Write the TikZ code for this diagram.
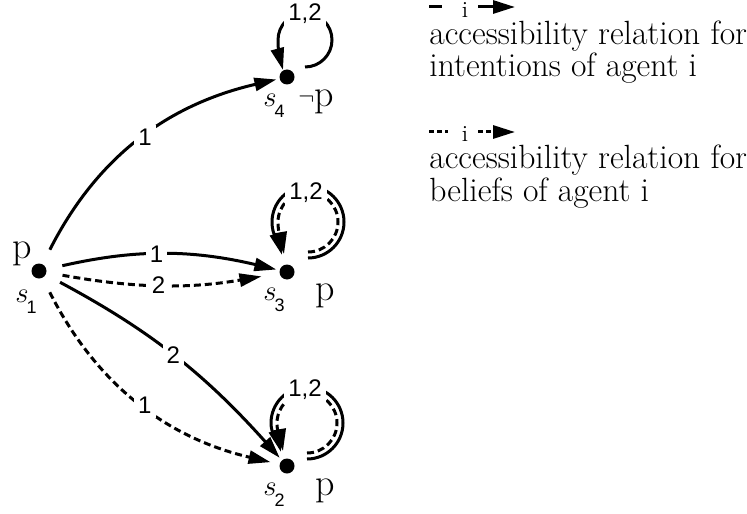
\documentclass[tikz,border=0pt]{standalone}
\usepackage{fontspec}
\usepackage{tikz}
\usetikzlibrary{arrows.meta, positioning}
\newfontfamily\lblfont{Liberation Sans}
\tikzstyle{dot} = [circle, fill=black, inner sep=0pt, minimum size=7.5pt]
\tikzstyle{intent} = [-{Triangle[length=11pt, width=6.5pt]}, line width=1.5pt]
\tikzstyle{belief} = [intent, dash pattern=on 3.5pt off 2pt]
\tikzstyle{lbl} = [fill=white, inner sep=2pt, font=\lblfont\fontsize{12}{12}\selectfont]
\tikzstyle{stname} = [inner sep=0pt, anchor=base west, font=\fontsize{15}{15}\selectfont]
\tikzstyle{prop} = [inner sep=0pt, anchor=base west, font=\fontsize{19}{19}\selectfont]
\tikzstyle{legend} = [inner sep=0pt, anchor=base west, align=left, font=\fontsize{16.8}{14.5}\selectfont]
\tikzstyle{agent} = [inner sep=0pt, font=\fontsize{11.5}{11.5}\selectfont]
\newcommand{\stnm}[1]{$s$\kern-1pt\raisebox{-5.5pt}{\lblfont\fontsize{9}{9}\selectfont #1}}

\begin{document}
\begin{tikzpicture}[x=0.5pt, y=-0.5pt]
    \useasboundingbox (0,0) rectangle (747,513);

    % States
    \node[dot] (s1) at (39,271) {};
    \node[dot] (s2) at (287,466) {};
    \node[dot] (s3) at (287,272) {};
    \node[dot] (s4) at (287,77) {};

    % State names and propositions
    \node[stname] (n1) at (15,302) {\stnm{1}};
    \node[prop, anchor=base] (p1) at (22,258) {p};
    \node[stname] (n4) at (263,107) {\stnm{4}};
    \node[prop] (p4) at (298,107) {\raisebox{1pt}{\fontsize{12}{12}\selectfont$\neg$}p};
    \node[stname] (n3) at (263,300) {\stnm{3}};
    \node[prop] (p3) at (315,300) {p};
    \node[stname] (n2) at (263,495) {\stnm{2}};
    \node[prop] (p2) at (315,495) {p};

    % Relations from s1
    \draw[intent, shorten <=8pt, shorten >=1.5pt] (s1) to[bend left=25] node[lbl, pos=0.53] {1} (s4);
    \draw[intent, shorten <=8pt, shorten >=1.5pt] (s1) to[bend left=13] node[lbl, pos=0.47] {1} (s3);
    \draw[belief, shorten <=8pt, shorten >=9pt] (s1) to[bend right=10] node[lbl, pos=0.48] {2} (s3);
    \draw[intent, shorten <=8pt, shorten >=1.5pt] (s1) to[bend left=10] node[lbl, pos=0.5] {2} (s2);
    \draw[belief, shorten <=8pt, shorten >=4.5pt] (s1) to[bend right=25] node[lbl, pos=0.53] {1} (s2);

    % Loops
    \draw[intent] ([shift={(9pt,5pt)}]s4.center) arc[start angle=-90, end angle=180, radius=13.5pt] to[out=-90, in=105] ([shift={(-2pt,3.5pt)}]s4.center);
    \draw[intent] ([shift={(10.5pt,7pt)}]s3.center) arc[start angle=-90, end angle=180, radius=18pt] to[out=-90, in=105] ([shift={(-2.5pt,8.5pt)}]s3.center);
    \draw[belief] ([shift={(10.5pt,10pt)}]s3.center) arc[start angle=-90, end angle=180, radius=15pt] to[out=-90, in=100] ([shift={(-1.5pt,9pt)}]s3.center);
    \draw[intent] ([shift={(10pt,3.5pt)}]s2.center) arc[start angle=-90, end angle=180, radius=18pt] to[out=-90, in=105] ([shift={(-3pt,7pt)}]s2.center);
    \draw[belief] ([shift={(10pt,6.5pt)}]s2.center) arc[start angle=-90, end angle=180, radius=15pt] to[out=-90, in=100] ([shift={(-2pt,7.5pt)}]s2.center);
    \node[lbl] (l4) at (305,14) {1,2};
    \node[lbl] (l3) at (306,193) {1,2};
    \node[lbl] (l2) at (305,390) {1,2};

    % Legend
    \coordinate (ia) at (429,7);
    \coordinate (ib) at (442,7);
    \node[agent] (ii) at (465,10) {i};
    \coordinate (ic) at (478,7);
    \coordinate (id) at (515,7);
    \draw[line width=1.5pt] (ia) -- (ib);
    \draw[intent] (ic) -- (id);
    \node[legend] (intdesc) at (429,77) {accessibility relation for\\intentions of agent i};

    \coordinate (ba) at (429,132);
    \coordinate (bb) at (448,132);
    \node[agent] (bi) at (465,134) {i};
    \coordinate (bc) at (478,132);
    \coordinate (bd) at (515,132);
    \draw[line width=1.5pt, dash pattern=on 2.5pt off 1.5pt] (ba) -- (bb);
    \draw[intent, dash pattern=on 2.5pt off 1.5pt] (bc) -- (bd);
    \node[legend] (beldesc) at (429,201) {accessibility relation for\\beliefs of agent i};
\end{tikzpicture}
\end{document}
